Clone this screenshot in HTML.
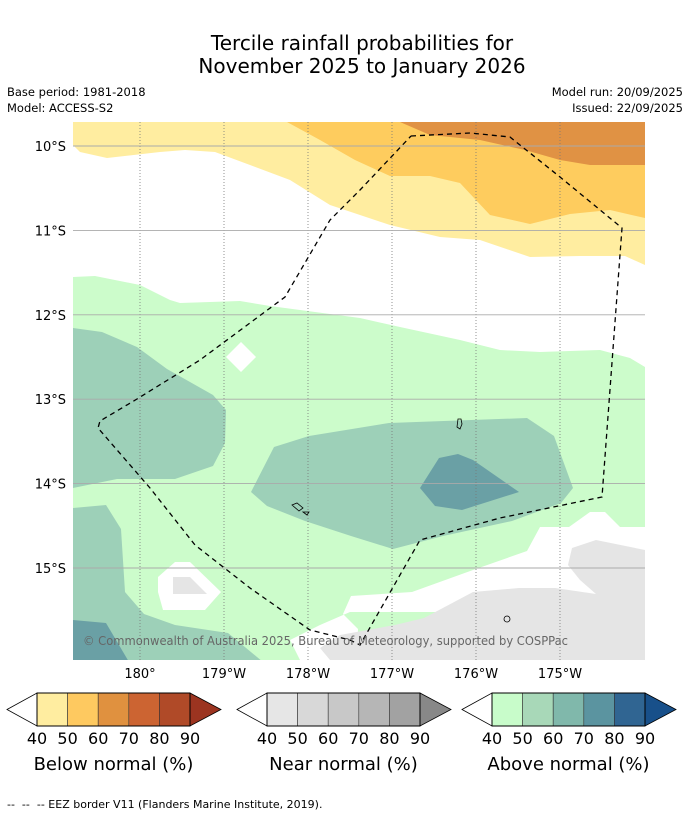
<!DOCTYPE html>
<html><head><meta charset="utf-8"><style>
body{margin:0;background:#fff;font-family:"Liberation Sans","DejaVu Sans",sans-serif}
svg{display:block}
text{font-family:"DejaVu Sans","Liberation Sans",sans-serif}
</style></head><body>
<svg id="chart" width="690" height="816" viewBox="0 0 690 816">
<text x="362" y="50" text-anchor="middle" font-size="20">Tercile rainfall probabilities for</text>
<text x="362" y="73" text-anchor="middle" font-size="20">November 2025 to January 2026</text>
<text x="7" y="96" font-size="11.5">Base period: 1981-2018</text>
<text x="7" y="112" font-size="11.5">Model: ACCESS-S2</text>
<text x="683" y="96" font-size="11.5" text-anchor="end">Model run: 20/09/2025</text>
<text x="683" y="112" font-size="11.5" text-anchor="end">Issued: 22/09/2025</text>
<defs><clipPath id="mc"><rect x="73" y="122" width="572" height="538"/></clipPath></defs>
<g clip-path="url(#mc)">
<rect x="73" y="122" width="572" height="538" fill="#fff"/>
<polygon fill="#ffeda0" points="73,122 645,122 645,265 625,256 580,256 530,257 480,240 440,237 390,225 360,215 330,205 290,180 250,165 215,152 185,150 160,152 107,158 80,152 73,145"/>
<polygon fill="#fecc5e" points="287,122 645,122 645,218 610,210 570,214 530,224 490,215 460,183 430,176 390,176 355,160 320,140"/>
<polygon fill="#e09244" points="400,122 645,122 645,165 590,165 560,160 525,150 480,140 430,135"/>
<polygon fill="#ccfccb" points="73,277 95,276 140,285 170,300 180,303 240,301 270,306 300,310 360,318 400,327 460,340 500,350 540,352 600,350 630,358 645,367 645,660 73,660"/>
<polygon fill="#fff" points="645,527 620,527 605,512 590,512 569,527 540,527 527,551 473,570 412,592 351,596 343,614 358,629 357,660 300,660 290,640 320,625 350,612 645,612"/>
<polygon fill="#e5e5e5" points="572,548 596,540 645,550 645,660 330,660 320,648 340,635 395,625 424,618 473,592 519,588 555,588 596,594 580,580 568,565"/>
<polygon fill="#9dd0b8" points="73,328 102,332 137,347 167,369 213,395 226,410 225,443 213,466 175,479 117,479 73,488"/>
<polygon fill="#9dd0b8" points="251,492 274,447 309,436 389,423 527,418 554,436 573,488 561,503 512,521 443,536 393,549 351,536 305,521 267,506"/>
<polygon fill="#6aa0a5" points="420,488 439,458 458,454 473,460 519,492 462,510 435,506"/>
<polygon fill="#9dd0b8" points="73,508 106,505 121,529 125,592 144,614 175,625 228,633 263,662 73,662"/>
<polygon fill="#6aa0a5" points="73,620 106,623 129,662 73,662"/>
<polygon fill="#fff" points="158,577 175,562 190,562 221,592 205,610 163,610 158,592"/>
<polygon fill="#e5e5e5" points="173,577 190,577 207,594 173,594"/>
<polygon fill="#fff" points="241,342 256,357 241,372 226,357"/>
<g id="grid"></g>
<polyline fill="none" stroke="#000" stroke-width="1.3" stroke-dasharray="5,4" points="411,136 470,133 510,137 560,177 622,228 602,497 500,518 420,540 360,645 350,640 310,630 250,588 195,545 150,488 98,428 100,421 137,399 200,360 285,297 330,220 360,190 411,136"/>
<path d="M458,419 l3,0 l1,5 l-2,5 l-3,-2 z" fill="none" stroke="#000" stroke-width="0.8"/>
<path d="M292,505 l5,-2 l6,5 l-4,3 z M303,512 l6,0 l-2,3 z" fill="none" stroke="#000" stroke-width="0.8"/>
<circle cx="507" cy="619" r="3" fill="none" stroke="#000" stroke-width="0.8"/>
<text x="83" y="645" font-size="12" fill="#666" textLength="485" lengthAdjust="spacingAndGlyphs">© Commonwealth of Australia 2025, Bureau of Meteorology, supported by COSPPac</text>
</g>
<g id="axes"></g>
<g id="bars"></g>
<text x="7" y="808" font-size="11" style="white-space:pre">--  --  -- EEZ border V11 (Flanders Marine Institute, 2019).</text>
</svg>
<script>
const lonTicks=[180,179,178,177,176,175];
const lonLabels=["180°","179°W","178°W","177°W","176°W","175°W"];
const latTicks=[10,11,12,13,14,15];
const latLabels=["10°S","11°S","12°S","13°S","14°S","15°S"];
const binLabels=["40","50","60","70","80","90"];
const belowColors=["#ffeda0","#fec960","#e0913f","#cc6432","#b04a28","#9c3420"];
const nearColors=["#e6e6e6","#d8d8d8","#c8c8c8","#b6b6b6","#a2a2a2","#888888"];
const aboveColors=["#c8fcca","#a8d8b8","#80b8ab","#5b94a0","#306592","#18508a"];
const ns="http://www.w3.org/2000/svg";
function xOf(w){return 140+(180-w)*84;}
function yOf(s){return 146+(s-10)*84.4;}
function mk(t,a,p){const e=document.createElementNS(ns,t);for(const k in a)e.setAttribute(k,a[k]);p.appendChild(e);return e;}
const grid=document.getElementById('grid'),axes=document.getElementById('axes'),bars=document.getElementById('bars');
lonTicks.forEach((w,i)=>{
 const l=mk('line',{x1:xOf(w),x2:xOf(w),y1:122,y2:660,stroke:'#777','stroke-width':0.8,'stroke-dasharray':'1,2'},grid);
 
 
 const t=mk('text',{x:xOf(w),y:678,'font-size':13,'text-anchor':'middle'},axes);t.textContent=lonLabels[i];
 
 
});
latTicks.forEach((s,i)=>{
 const l=mk('line',{x1:73,x2:645,y1:yOf(s),y2:yOf(s),stroke:'#aaa','stroke-width':0.9},grid);
 
 
 const t=mk('text',{x:66,y:yOf(s)+5,'font-size':13,'text-anchor':'end'},axes);t.textContent=latLabels[i];
 
 
});
function colorbar(x0,cols,title,name){
 const g=mk('g',{},bars);
 
 
 const w=30.6,y0=693,h=33,bx=x0+30;
 mk('polygon',{points:`${x0},${y0+h/2} ${bx},${y0} ${bx},${y0+h}`,fill:'#fff',stroke:'#000','stroke-width':0.8},g);
 for(let i=0;i<5;i++)mk('rect',{x:bx+i*w,y:y0,width:w,height:h,fill:cols[i],stroke:'#333','stroke-width':0.6},g);
 const ex=bx+5*w;
 mk('polygon',{points:`${ex},${y0} ${ex+31},${y0+h/2} ${ex},${y0+h}`,fill:cols[5],stroke:'#000','stroke-width':0.8},g);
 mk('rect',{x:bx,y:y0,width:5*w,height:h,fill:'none',stroke:'#000','stroke-width':1},g);
 binLabels.forEach((b,i)=>{const t=mk('text',{x:bx+i*w,y:744,'font-size':16,'text-anchor':'middle'},g);t.textContent=b;});
 const t=mk('text',{x:bx+2.5*w,y:770,'font-size':18,'text-anchor':'middle'},g);t.textContent=title;
}
colorbar(7,belowColors,"Below normal (%)","below-normal-colorbar");
colorbar(237,nearColors,"Near normal (%)","near-normal-colorbar");
colorbar(462,aboveColors,"Above normal (%)","above-normal-colorbar");
</script>
</body></html>
